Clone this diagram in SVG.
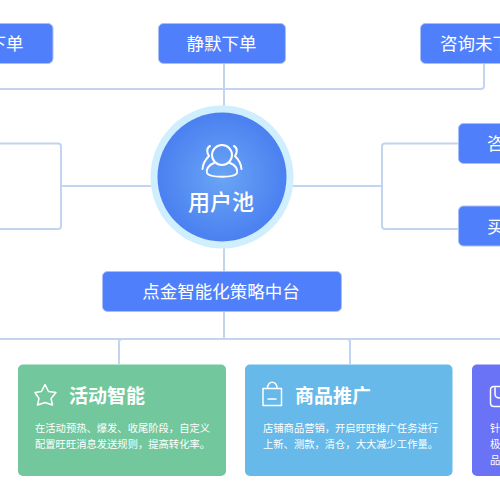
<svg xmlns="http://www.w3.org/2000/svg" width="500" height="500" viewBox="0 0 500 500">
<defs>
<radialGradient id="g" cx="50%" cy="50%" r="50%"><stop offset="0" stop-color="#6aa5f5"/><stop offset="1" stop-color="#4a80f0"/></radialGradient>
</defs>
<style>
text{font-family:"Noto Sans CJK SC","Noto Sans",sans-serif;fill:#fff}
.n{fill:#507ffb;stroke:#a9c0f5;stroke-width:1}
.l{font-size:17.500px;text-anchor:middle}
.t{font-size:19px;font-weight:700}
.d{font-size:10.300px}
.c{fill:none;stroke:#c3d4f0;stroke-width:2}
.i{fill:none;stroke:#fff;stroke-width:1.500;stroke-linejoin:round;stroke-linecap:round}
.p{fill:none;stroke:#fff;stroke-width:2;stroke-linejoin:round;stroke-linecap:round}
</style>
<rect width="500" height="500" fill="#fff"/>
<g id="connectors">
<path class="c" d="M0 89H481a3 3 0 0 0 3-3V63"/>
<path class="c" d="M224 63V107M224 248V272M224 311V339"/>
<path class="c" d="M0 143.500H58a3 3 0 0 1 3 3V226a3 3 0 0 1-3 3H0M61 186H151"/>
<path class="c" d="M458 143.500H385a3 3 0 0 0-3 3V226a3 3 0 0 0 3 3H458M293 186H382"/>
<path class="c" d="M0 339H500M119 364V342a3 3 0 0 1 3-3M350 364V342a3 3 0 0 0-3-3"/>
</g>
<g id="node-left-top"><rect class="n" x="-60" y="23.500" width="113" height="40" rx="5"/><text class="l" x="6" y="49.500">下单</text></g>
<g id="node-silent"><rect class="n" x="158.500" y="23.500" width="127" height="40" rx="5"/><text class="l" x="221.500" y="49.500">静默下单</text></g>
<g id="node-consult"><rect class="n" x="420.500" y="23.500" width="127" height="40" rx="5"/><text class="l" x="440" y="49.500" style="text-anchor:start">咨询未下单</text></g>
<g id="node-r1"><rect class="n" x="458.500" y="123.500" width="100" height="40" rx="5"/><text class="l" x="487" y="149.500" style="text-anchor:start">咨询</text></g>
<g id="node-r2"><rect class="n" x="458.500" y="206" width="100" height="40" rx="5"/><text class="l" x="487" y="232.500" style="text-anchor:start">买</text></g>
<g id="node-pool">
<circle cx="222" cy="177" r="71.500" fill="#cfeefe"/>
<circle cx="222" cy="177" r="64.500" fill="url(#g)"/>
<circle class="p" cx="222" cy="155" r="10"/>
<path class="p" d="M214 163C208 165 206 170 207 173C209 178 235 178 237 173C238 170 236 165 230 163"/>
<path class="p" d="M210 146C206 148 207 153 209 156C205 160 203 163 202.500 169M234 146C238 148 237 153 235 156C239 160 241 163 241.500 169"/>
<text x="221" y="210" style="font-size:22px;font-weight:500;text-anchor:middle">用户池</text>
</g>
<g id="node-platform"><rect class="n" x="102.500" y="271.500" width="239" height="40" rx="5"/><text class="l" x="221" y="298">点金智能化策略中台</text></g>
<g id="card-activity">
<rect x="18" y="364.500" width="208" height="111.500" rx="5" fill="#72c79d"/>
<path class="i" d="M45 384.500L48.500 391.500L56 392.500L51 398.500L52.500 405L45 402.500L37.500 405L39 398.500L35 392.500L41.500 391.500Z"/>
<text class="t" x="69" y="403">活动智能</text>
<text class="d" x="35" y="432">在活动预热、爆发、收尾阶段，自定义</text>
<text class="d" x="35" y="448">配置旺旺消息发送规则，提高转化率。</text>
</g>
<g id="card-product">
<rect x="245" y="364.500" width="207.500" height="111.500" rx="5" fill="#66b9e8"/>
<path class="i" d="M263 388.500H281.500V405.500H263ZM267.500 388.500C267.500 380 277 380 277 388.500M268 399H276"/>
<text class="t" x="295" y="403">商品推广</text>
<text class="d" x="263" y="432">店铺商品营销，开启旺旺推广任务进行</text>
<text class="d" x="263" y="448">上新、测款，清仓，大大减少工作量。</text>
</g>
<g id="card-purple">
<rect x="472" y="364.500" width="60" height="111.500" rx="5" fill="#6a72f5"/>
<path class="i" d="M500 386.500H494Q490.500 386.500 490.500 390V403Q490.500 406.500 494 406.500H500M495 388V394Q495 398 500 398"/>
<text class="d" x="490" y="432">针</text>
<text class="d" x="490" y="448">极</text>
<text class="d" x="490" y="464">品</text>
</g>
</svg>
